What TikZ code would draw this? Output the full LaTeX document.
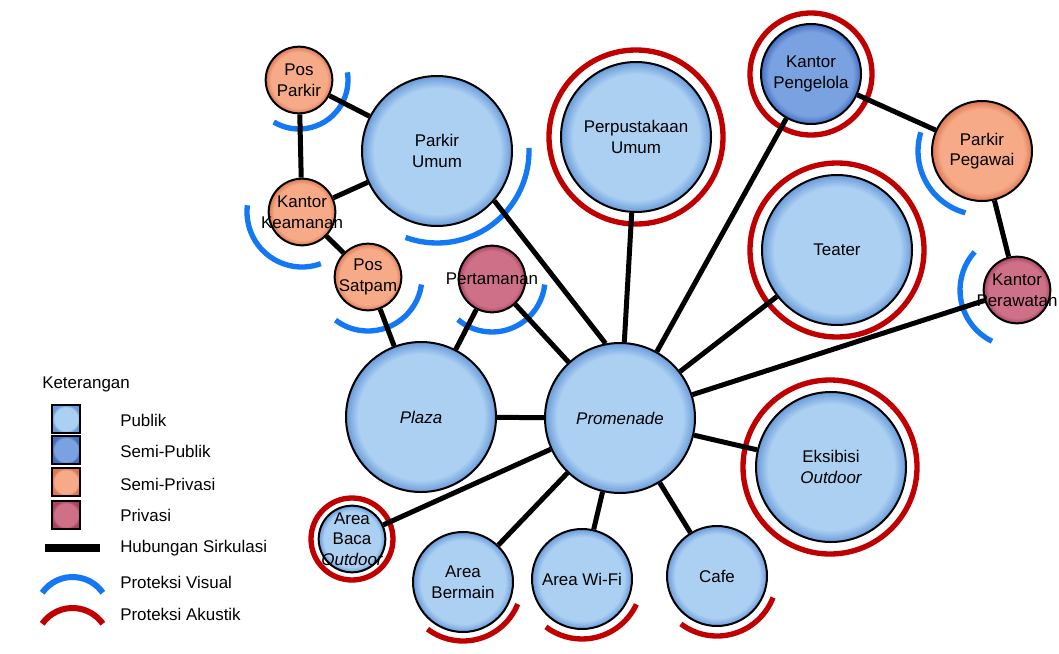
\documentclass[tikz,border=0pt]{standalone}
\usepackage{fontspec}
\setmainfont{Liberation Sans}
\usetikzlibrary{backgrounds}

% zone colours: inner fill and darker rim
\definecolor{pubin}{RGB}{172,208,242}
\definecolor{pubout}{RGB}{105,155,218}
\definecolor{spubin}{RGB}{122,162,224}
\definecolor{spubout}{RGB}{65,108,195}
\definecolor{sprvin}{RGB}{246,170,135}
\definecolor{sprvout}{RGB}{222,118,82}
\definecolor{prvin}{RGB}{206,112,136}
\definecolor{prvout}{RGB}{168,68,98}
\definecolor{acred}{RGB}{192,0,0}
\definecolor{visblue}{RGB}{20,120,245}

% flat fill with a darker rim near the border
\pgfdeclareradialshading{pubsh}{\pgfpoint{0bp}{0bp}}{color(0bp)=(pubin);color(21bp)=(pubin);color(25bp)=(pubout);color(50bp)=(pubout)}
\pgfdeclareradialshading{spubsh}{\pgfpoint{0bp}{0bp}}{color(0bp)=(spubin);color(21bp)=(spubin);color(25bp)=(spubout);color(50bp)=(spubout)}
\pgfdeclareradialshading{sprvsh}{\pgfpoint{0bp}{0bp}}{color(0bp)=(sprvin);color(21bp)=(sprvin);color(25bp)=(sprvout);color(50bp)=(sprvout)}
\pgfdeclareradialshading{prvsh}{\pgfpoint{0bp}{0bp}}{color(0bp)=(prvin);color(21bp)=(prvin);color(25bp)=(prvout);color(50bp)=(prvout)}

\tikzset{
  place/.style={circle, draw=black, line width=1.5pt, inner sep=0pt, shade},
  pub/.style={place, shading=pubsh},
  spub/.style={place, shading=spubsh},
  sprv/.style={place, shading=sprvsh},
  prv/.style={place, shading=prvsh},
  big/.style={minimum size=112.5pt},
  mid/.style={minimum size=75pt},
  small/.style={minimum size=50pt},
  lbl/.style={font=\fontsize{12.7}{15.5}\selectfont, align=center, inner sep=0pt},
  link/.style={line width=3.75pt, black},
  vis/.style={draw=visblue, line width=4pt},
  aku/.style={draw=acred, line width=4pt},
  keybox/.style={draw=black, line width=1.6pt, shade, minimum size=21pt, inner sep=0pt},
  keytext/.style={font=\fontsize{12.7}{15}\selectfont, anchor=west, inner sep=0pt}
}

\begin{document}
\begin{tikzpicture}[x=0.75pt, y=-0.75pt]
\useasboundingbox (0,0) rectangle (1059,653);

% ---------- spaces ----------
\node[sprv, small, label={[lbl]center:{Pos\\Parkir}}] (posparkir) at (299,80) {};
\node[pub, big, label={[lbl]center:{Parkir\\Umum}}] (parkirumum) at (437,151) {};
\node[sprv, small, label={[lbl]center:{Kantor\\Keamanan}}] (keamanan) at (302,212) {};
\node[sprv, small, label={[lbl]center:{Pos\\Satpam}}] (satpam) at (368,277) {};
\node[prv, small, label={[lbl]center:{Pertamanan}}] (pertamanan) at (492,279) {};
\node[pub, big, label={[lbl]center:{Perpustakaan\\Umum}}] (perpus) at (636,137) {};
\node[spub, mid, label={[lbl]center:{Kantor\\Pengelola}}] (pengelola) at (811,74) {};
\node[sprv, mid, label={[lbl]center:{Parkir\\Pegawai}}] (pegawai) at (982,151) {};
\node[prv, small, label={[lbl]center:{Kantor\\Perawatan}}] (perawatan) at (1017,290) {};
\node[pub, big, label={[lbl]center:{Teater}}] (teater) at (837,250) {};
\node[pub, big, label={[lbl]center:{\itshape Promenade}}] (promenade) at (620,418) {};
\node[pub, big, label={[lbl]center:{\itshape Plaza}}] (plaza) at (421,417) {};
\node[pub, big, label={[lbl]center:{Eksibisi\\\itshape Outdoor}}] (eksibisi) at (831,467) {};
\node[pub, small, label={[lbl]center:{Area\\Baca\\\itshape Outdoor}}] (baca) at (352,539) {};
\node[pub, mid, label={[lbl]center:{Area\\Bermain}}] (bermain) at (463,582) {};
\node[pub, mid, label={[lbl]center:{Area Wi-Fi}}] (wifi) at (582,579) {};
\node[pub, mid, label={[lbl]center:{Cafe}}] (cafe) at (717,576) {};

% ---------- legend ----------
\node[keytext, anchor=west] (keyhead) at (42,384) {Keterangan};
\node[keybox, shading=pubsh] (k1) at (66,419) {};
\node[keybox, shading=spubsh] (k2) at (66,450) {};
\node[keybox, shading=sprvsh] (k3) at (66,482) {};
\node[keybox, shading=prvsh] (k4) at (66,515) {};
\node[keytext] (t1) at (120,420) {Publik};
\node[keytext] (t2) at (120,451) {Semi-Publik};
\node[keytext] (t3) at (120,484) {Semi-Privasi};
\node[keytext] (t4) at (120,515) {Privasi};
\node[keytext] (t5) at (120,548) {Hubungan Sirkulasi};
\node[keytext] (t6) at (120,582) {Proteksi Visual};
\node[keytext] (t7) at (120,614) {Proteksi Akustik};
\coordinate (barL) at (45,548);
\coordinate (barR) at (100,548);
\coordinate (kv) at (72.5,614);
\coordinate (ka) at (72.5,645);

\begin{scope}[on background layer]
  % acoustic rings
  \draw[aku] (perpus) circle[radius=87];
  \draw[aku] (pengelola) circle[radius=61];
  \draw[aku] (teater) circle[radius=87];
  \draw[aku] (830,467) circle[radius=87];
  \draw[aku] (baca) circle[radius=41];
  % acoustic arcs
  \draw[aku] (bermain) ++(22:59) arc[start angle=22, end angle=127, radius=59];
  \draw[aku] (wifi) ++(25:60) arc[start angle=25, end angle=127, radius=60];
  \draw[aku] (cafe) ++(21:60) arc[start angle=21, end angle=127, radius=60];
  % visual arcs
  \draw[vis] (posparkir) ++(-9:49) arc[start angle=-9, end angle=121, radius=49];
  \draw[vis] (parkirumum) ++(-2:92) arc[start angle=-2, end angle=110, radius=92];
  \draw[vis] (keamanan) ++(70:55) arc[start angle=70, end angle=187, radius=55];
  \draw[vis] (satpam) ++(8:54) arc[start angle=8, end angle=127, radius=54];
  \draw[vis] (pertamanan) ++(6:53) arc[start angle=6, end angle=130, radius=53];
  \draw[vis] (pegawai) ++(105:64) arc[start angle=105, end angle=197, radius=64];
  \draw[vis] (perawatan) ++(116:57) arc[start angle=116, end angle=222, radius=57];
  % circulation links
  \draw[link] (posparkir) -- (parkirumum);
  \draw[link] (posparkir) -- (keamanan);
  \draw[link] (keamanan) -- (parkirumum);
  \draw[link] (keamanan) -- (satpam);
  \draw[link] (satpam) -- (plaza);
  \draw[link] (pertamanan) -- (plaza);
  \draw[link] (pertamanan) -- (promenade);
  \draw[link] (parkirumum.-41) -- (promenade.101);
  \draw[link] (perpus) -- (promenade);
  \draw[link] (pengelola) -- (promenade);
  \draw[link] (pengelola) -- (pegawai);
  \draw[link] (pegawai) -- (perawatan);
  \draw[link] (teater) -- (promenade);
  \draw[link] (perawatan) -- (promenade);
  \draw[link] (plaza) -- (promenade);
  \draw[link] (eksibisi) -- (promenade);
  \draw[link] (baca) -- (promenade);
  \draw[link] (bermain) -- (promenade);
  \draw[link] (wifi) -- (promenade);
  \draw[link] (cafe) -- (promenade);
  % legend symbols
  \draw[line width=6pt, black] (barL) -- (barR);
  \draw[vis, line width=4.5pt] (kv) ++(-145:37) arc[start angle=-145, end angle=-35, radius=37];
  \draw[aku, line width=4.5pt] (ka) ++(-145:37) arc[start angle=-145, end angle=-35, radius=37];
\end{scope}
\end{tikzpicture}
\end{document}
